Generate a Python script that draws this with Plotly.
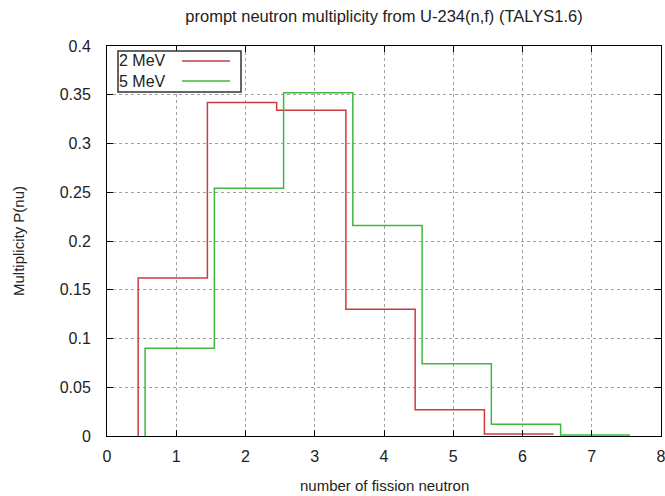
import plotly.graph_objects as go

# Data
nu_2mev = [1, 2, 3, 4, 5, 6]
p_2mev = [0.162, 0.342, 0.334, 0.130, 0.027, 0.002]
nu_5mev = [1, 2, 3, 4, 5, 6, 7]
p_5mev = [0.090, 0.254, 0.352, 0.216, 0.074, 0.012, 0.001]
x_shift_2mev = -0.05
x_shift_5mev = 0.05

RED = "#cc3c3c"
GREEN = "#3cb83c"
FONT = "Liberation Sans, Arial, sans-serif"
TXT = "#222"

W, H = 665, 496
L, R, T, B = 107, 4, 46, 60
PW, PH = W - L - R, H - T - B


def step_xy(nu, p, shift):
    xs = [nu[0] + shift - 0.5]
    ys = [0.0]
    for n, v in zip(nu, p):
        xs.append(n + shift - 0.5)
        ys.append(v)
    xs.append(nu[-1] + shift + 0.5)
    ys.append(p[-1])
    return xs, ys


fig = go.Figure()
for nu, p, sh, col, name in [
    (nu_2mev, p_2mev, x_shift_2mev, RED, "2 MeV"),
    (nu_5mev, p_5mev, x_shift_5mev, GREEN, "5 MeV"),
]:
    xs, ys = step_xy(nu, p, sh)
    fig.add_trace(go.Scatter(x=xs, y=ys, mode="lines", line=dict(color=col, width=1.5, shape="hv"),
                             name=name, showlegend=False))

axis_common = dict(
    showline=True, linecolor="black", linewidth=1, mirror="ticks",
    ticks="inside", ticklen=6, tickcolor="black", automargin=False,
    showgrid=True, gridcolor="#a0a0a0", griddash="dot", gridwidth=1,
    zeroline=False, tickfont=dict(family=FONT, size=16, color=TXT),
)

fig.update_layout(
    width=W, height=H,
    margin=dict(l=L, r=R, t=T, b=B),
    paper_bgcolor="white", plot_bgcolor="white",
    title=dict(text="prompt neutron multiplicity from U-234(n,f) (TALYS1.6)",
               x=(L + PW / 2) / W, xanchor="center", y=1 - 16 / H, yanchor="middle", automargin=False,
               font=dict(family=FONT, size=16.5, color=TXT)),
    xaxis=dict(range=[0, 8], dtick=1, ticklabelstandoff=6, ticklabeloverflow="allow", **axis_common),
    yaxis=dict(range=[0, 0.4], dtick=0.05, tickformat="~g", ticklabelstandoff=12, **axis_common),
)

# axis titles
fig.add_annotation(x=0.5, y=-(485 - (T + PH)) / PH, xref="paper", yref="paper",
                   text="number of fission neutron", showarrow=False, xanchor="center", yanchor="middle",
                   font=dict(family=FONT, size=15, color=TXT))
fig.add_annotation(x=-(L - 18) / PW, y=0.5, xref="paper", yref="paper", textangle=-90,
                   text="Multiplicity P(nu)", showarrow=False, xanchor="center", yanchor="middle",
                   font=dict(family=FONT, size=15, color=TXT))

# Manual legend (gnuplot style: text left, line sample right)
fig.add_shape(type="rect", xref="paper", yref="paper",
              x0=11 / PW, x1=134 / PW,
              y0=1 - 46 / PH, y1=1 - 5 / PH,
              line=dict(color="#333", width=1.5), fillcolor="white", layer="above")
for i, (name, col) in enumerate([("2 MeV", RED), ("5 MeV", GREEN)]):
    yp = 1 - (15 + 20 * i) / PH
    fig.add_annotation(x=10 / PW, y=yp, xref="paper", yref="paper", text=name,
                       showarrow=False, xanchor="left", yanchor="middle",
                       font=dict(family=FONT, size=16, color=TXT))
    fig.add_shape(type="line", xref="paper", yref="paper",
                  x0=75 / PW, x1=123 / PW, y0=yp, y1=yp,
                  line=dict(color=col, width=1.5), layer="above")

fig.write_html("out.html", config={"displayModeBar": False},
               post_script="document.body.style.margin='0';")
